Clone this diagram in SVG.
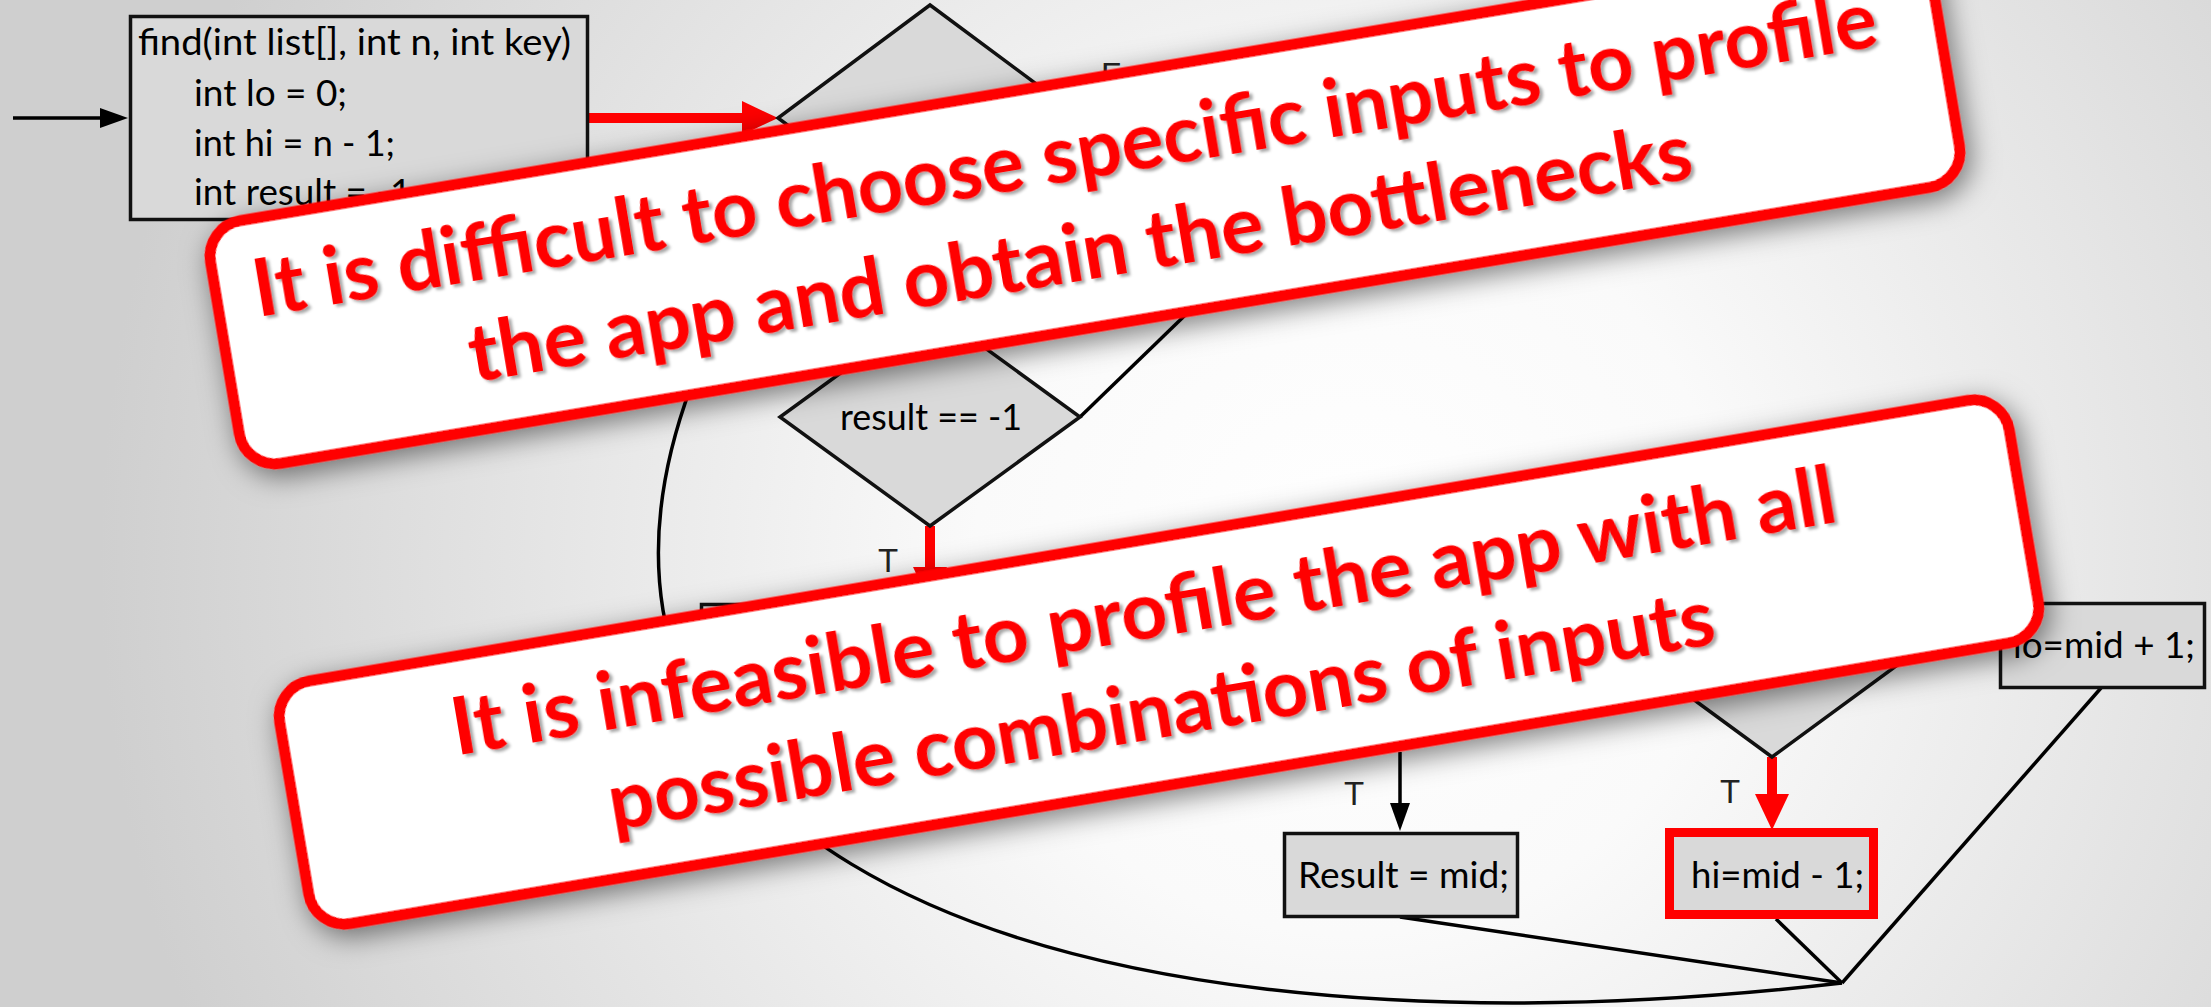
<svg xmlns="http://www.w3.org/2000/svg" width="2211" height="1007" viewBox="0 0 2211 1007">
  <defs>
    <radialGradient id="bg" gradientUnits="userSpaceOnUse" cx="1350" cy="560" r="1250">
      <stop offset="0" stop-color="#ffffff"/>
      <stop offset="0.3" stop-color="#fafafa"/>
      <stop offset="1" stop-color="#cfcfcf"/>
    </radialGradient>
    <marker id="ahBlack" markerUnits="userSpaceOnUse" markerWidth="28" markerHeight="20" refX="0" refY="10" orient="auto" overflow="visible">
      <path d="M0,0 L28,10 L0,20 Z" fill="#000"/>
    </marker>
    <marker id="ahRed" markerUnits="userSpaceOnUse" markerWidth="36" markerHeight="34" refX="0" refY="17" orient="auto" overflow="visible">
      <path d="M0,0 L36,17 L0,34 Z" fill="#ff0000"/>
    </marker>
    <filter id="calloutShadow" x="-10%" y="-40%" width="120%" height="180%">
      <feDropShadow dx="4" dy="8" stdDeviation="14" flood-color="#000" flood-opacity="0.5"/>
    </filter>
    <filter id="textShadow" x="-5%" y="-20%" width="110%" height="140%">
      <feDropShadow dx="3" dy="3" stdDeviation="1.5" flood-color="#000" flood-opacity="0.35"/>
    </filter>
    <style>
      .node { fill: #d9d9d9; stroke: #111; stroke-width: 3.5; }
      .code { font-family: Lato, "Liberation Sans", sans-serif; font-size: 36px; fill: #000; }
      .edge { fill: none; stroke: #000; stroke-width: 3.5; }
      .hot { fill: none; stroke: #ff0000; stroke-width: 10; }
      .lbl { font-family: "Liberation Sans", sans-serif; font-size: 33px; fill: #222; }
      .callout-box { fill: #ffffff; stroke: #ff0000; stroke-width: 11; }
      .callout-text { font-family: Lato, "Liberation Sans", sans-serif; font-weight: 700; font-size: 80px; fill: #ff0000; text-anchor: middle; }
    </style>
  </defs>

  <!-- slide background -->
  <rect x="0" y="0" width="2211" height="1007" fill="url(#bg)"/>

  <!-- connectors -->
  <g id="connectors">
    <line x1="13" y1="118" x2="100" y2="118" class="edge" marker-end="url(#ahBlack)"/>
    <line x1="589" y1="118" x2="742" y2="118" class="hot" marker-end="url(#ahRed)"/>
    <line x1="930" y1="526" x2="930" y2="567" class="hot" marker-end="url(#ahRed)"/>
    <line x1="1080" y1="417" x2="1240" y2="262" class="edge"/>
    <path d="M1842,983 C1000,1080 400,820 770,230" class="edge" stroke-width="4"/>
    <line x1="1400" y1="752" x2="1400" y2="803" class="edge" marker-end="url(#ahBlack)"/>
    <line x1="1772" y1="757" x2="1772" y2="794" class="hot" marker-end="url(#ahRed)"/>
    <line x1="1400" y1="917" x2="1842" y2="983" class="edge" stroke-width="4"/>
    <line x1="1776" y1="919" x2="1842" y2="983" class="edge"/>
    <line x1="2101" y1="688" x2="1842" y2="983" class="edge"/>
  </g>

  <!-- flowchart nodes -->
  <g id="node-find">
    <rect x="130.5" y="16.5" width="457" height="203" class="node"/>
    <text class="code" x="138" y="55" textLength="433" lengthAdjust="spacingAndGlyphs">find(int list[], int n, int key)</text>
    <text class="code" x="194" y="106" textLength="153" lengthAdjust="spacingAndGlyphs">int lo = 0;</text>
    <text class="code" x="194" y="156" textLength="201" lengthAdjust="spacingAndGlyphs">int hi = n - 1;</text>
    <text class="code" x="194" y="205" textLength="227" lengthAdjust="spacingAndGlyphs">int result = -1;</text>
  </g>

  <g id="node-loop-test">
    <polygon points="930,5 1082,118 930,231 778,118" class="node"/>
    <text class="lbl" x="1101" y="86">F</text>
  </g>

  <g id="node-result-test">
    <polygon points="930,308 1080,417 930,526 780,417" class="node"/>
    <text class="code" x="840" y="430" textLength="182" lengthAdjust="spacingAndGlyphs">result == -1</text>
    <text class="lbl" x="878" y="572">T</text>
  </g>

  <g id="node-mid">
    <rect x="701.5" y="604.5" width="458" height="88" class="node"/>
  </g>

  <g id="node-hi-test">
    <polygon points="1772,537 1922,647 1772,757 1622,647" class="node"/>
    <text class="lbl" x="1720" y="803">T</text>
  </g>

  <g id="node-result-assign">
    <rect x="1284.5" y="833.5" width="233" height="83" class="node"/>
    <text class="code" x="1298" y="888" textLength="211" lengthAdjust="spacingAndGlyphs">Result = mid;</text>
    <text class="lbl" x="1344" y="805">T</text>
  </g>

  <g id="node-hi-assign">
    <rect x="1669.5" y="832.5" width="204" height="82" fill="#d9d9d9" stroke="#ff0000" stroke-width="9"/>
    <text class="code" x="1691" y="888" textLength="173" lengthAdjust="spacingAndGlyphs">hi=mid - 1;</text>
  </g>

  <g id="node-lo-assign">
    <rect x="2000.5" y="603.5" width="204" height="84" class="node"/>
    <text class="code" x="2013" y="658" textLength="182" lengthAdjust="spacingAndGlyphs">lo=mid + 1;</text>
  </g>

  <!-- callout banners -->
  <g id="callout-difficult" transform="translate(1085 204) rotate(-9.5)">
    <rect x="-872" y="-123" width="1744" height="246" rx="36" class="callout-box" filter="url(#calloutShadow)"/>
    <g filter="url(#textShadow)">
      <text class="callout-text" x="-12" y="-25" textLength="1645" lengthAdjust="spacingAndGlyphs">It is difficult to choose specific inputs to profile</text>
      <text class="callout-text" x="-13" y="75" textLength="1239" lengthAdjust="spacingAndGlyphs">the app and obtain the bottlenecks</text>
    </g>
  </g>

  <g id="callout-infeasible" transform="translate(1159 662) rotate(-9.6)">
    <rect x="-877" y="-123" width="1754" height="246" rx="36" class="callout-box" filter="url(#calloutShadow)"/>
    <g filter="url(#textShadow)">
      <text class="callout-text" x="-7" y="-25" textLength="1403" lengthAdjust="spacingAndGlyphs">It is infeasible to profile the app with all</text>
      <text class="callout-text" x="-6" y="75" textLength="1121" lengthAdjust="spacingAndGlyphs">possible combinations of inputs</text>
    </g>
  </g>
</svg>
